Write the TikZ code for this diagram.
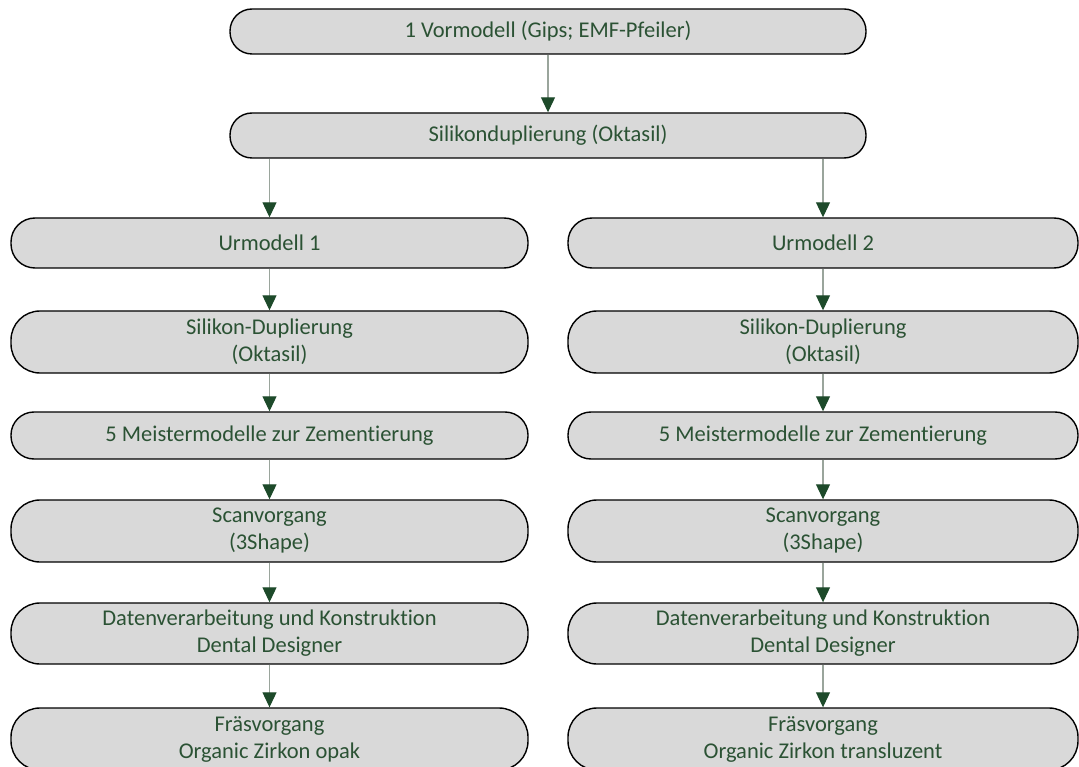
\documentclass[tikz,border=0pt]{standalone}
\usepackage{fontspec}
\setmainfont{Carlito}[Ligatures=NoCommon]
\usetikzlibrary{arrows.meta}
\definecolor{boxfill}{HTML}{D9D9D9}
\definecolor{txtgreen}{HTML}{2B5234}
\definecolor{tipgreen}{HTML}{1D4A2A}
\definecolor{linegrey}{HTML}{9AA59C}
\begin{document}
\begin{tikzpicture}[x=1pt,y=-1pt,
  stage/.style={draw=black,line width=1.4pt,fill=boxfill,rounded corners=22pt,
    text=txtgreen,align=center,inner sep=0pt,
    font=\fontsize{22.5}{27}\selectfont},
  tall/.style={rounded corners=29pt},
  flow/.style={draw=linegrey,line width=1.1pt,
    -{Triangle[width=14pt,length=15pt,color=tipgreen]}}]
\useasboundingbox (0,0) rectangle (1079,767);
\node[stage,minimum width=636pt,minimum height=45pt] (v) at (548,31.5) {1 Vormodell (Gips; EMF-Pfeiler)};
\node[stage,minimum width=636pt,minimum height=45pt] (s) at (548,135.5) {Silikonduplierung (Oktasil)};
% left column
\node[stage,rounded corners=24pt,minimum width=517pt,minimum height=50pt] (u1) at (269.5,243) {Urmodell 1};
\node[stage,tall,minimum width=517pt,minimum height=62pt] (d1) at (269.5,342) {Silikon-Duplierung\\(Oktasil)};
\node[stage,rounded corners=23pt,minimum width=517pt,minimum height=47pt] (m1) at (269.5,435.5) {5 Meistermodelle zur Zementierung};
\node[stage,tall,minimum width=517pt,minimum height=62pt] (sc1) at (269.5,531) {Scanvorgang\\(3Shape)};
\node[stage,tall,minimum width=517pt,minimum height=61pt] (dv1) at (269.5,633.5) {Datenverarbeitung und Konstruktion\\Dental Designer};
\node[stage,tall,minimum width=517pt,minimum height=62pt] (f1) at (269.5,739) {Fräsvorgang\\Organic Zirkon opak};
% right column
\node[stage,rounded corners=24pt,minimum width=510pt,minimum height=50pt] (u2) at (823,243) {Urmodell 2};
\node[stage,tall,minimum width=510pt,minimum height=62pt] (d2) at (823,342) {Silikon-Duplierung\\(Oktasil)};
\node[stage,rounded corners=23pt,minimum width=510pt,minimum height=47pt] (m2) at (823,435.5) {5 Meistermodelle zur Zementierung};
\node[stage,tall,minimum width=510pt,minimum height=62pt] (sc2) at (823,531) {Scanvorgang\\(3Shape)};
\node[stage,tall,minimum width=510pt,minimum height=61pt] (dv2) at (823,633.5) {Datenverarbeitung und Konstruktion\\Dental Designer};
\node[stage,tall,minimum width=510pt,minimum height=62pt] (f2) at (823,739) {Fräsvorgang\\Organic Zirkon transluzent};
% connectors
\draw[flow] (v) -- (s);
\draw[flow] (s.south -| u1.north) -- (u1);
\draw[flow] (s.south -| u2.north) -- (u2);
\draw[flow] (u1) -- (d1);
\draw[flow] (d1) -- (m1);
\draw[flow] (m1) -- (sc1);
\draw[flow] (sc1) -- (dv1);
\draw[flow] (dv1) -- (f1);
\draw[flow] (u2) -- (d2);
\draw[flow] (d2) -- (m2);
\draw[flow] (m2) -- (sc2);
\draw[flow] (sc2) -- (dv2);
\draw[flow] (dv2) -- (f2);
\end{tikzpicture}
\end{document}
